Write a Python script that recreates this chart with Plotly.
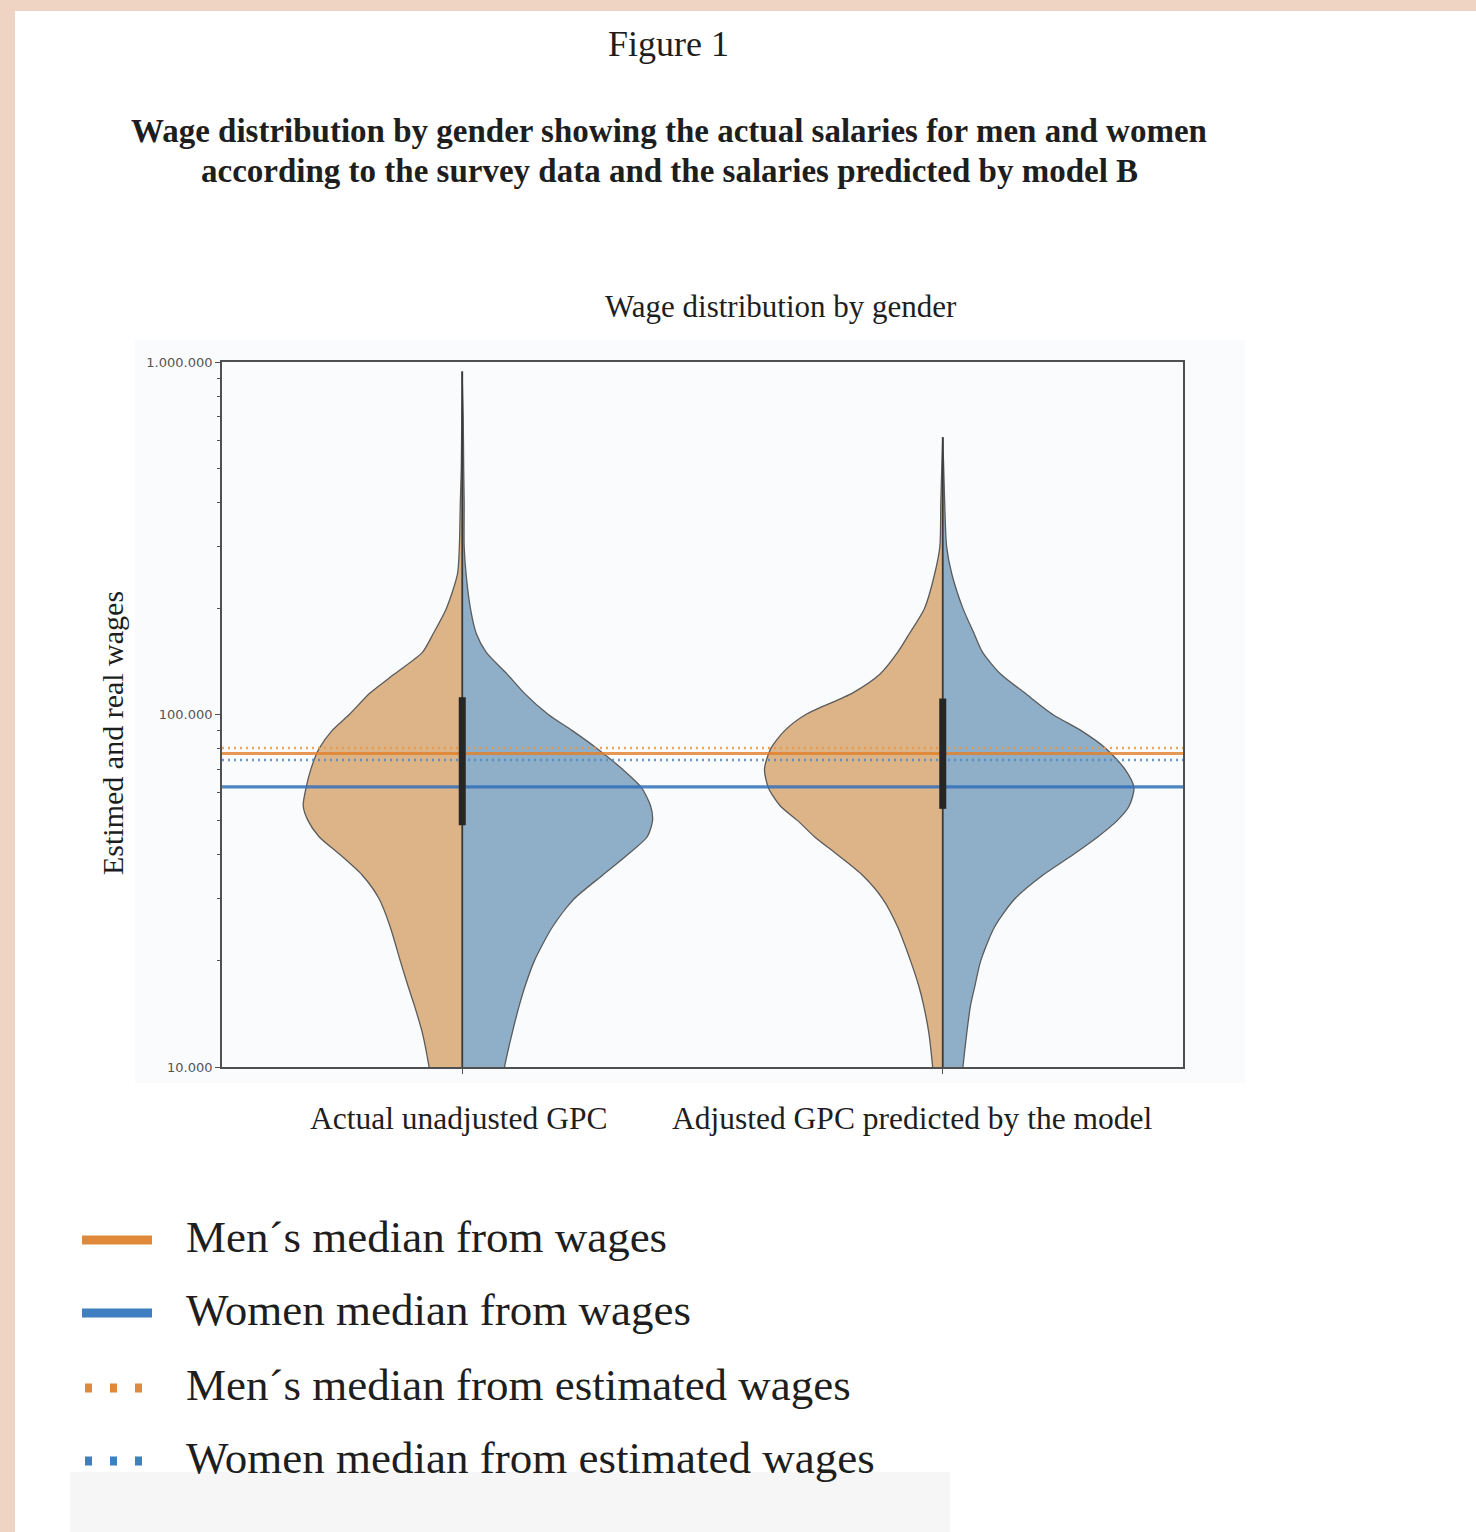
import plotly.graph_objects as go

# ---------------------------------------------------------------- data
CATEGORIES = ["Actual unadjusted GPC", "Adjusted GPC predicted by the model"]
CATEGORY_POS = [0, 1]

# wage levels at which the kernel density outline is sampled
WAGE_LEVELS = [900000, 700000, 500000, 400000, 300000, 250000, 200000, 170000,
               150000, 130000, 115000, 100000, 90000, 80000, 70000, 62000,
               55000, 50000, 45000, 40000, 35000, 30000, 25000, 20000, 17000,
               15000, 12500, 10000, 8000]

# half-widths of each violin side (category units)
ACTUAL_MEN_DENSITY = [0, .001, .002, .004, .006, .010, .033, .060, .083, .142,
                      .192, .235, .271, .298, .315, .325, .331, .321, .298,
                      .254, .208, .173, .150, .129, .113, .100, .083, .069, .058]
ACTUAL_WOMEN_DENSITY = [0, .002, .003, .004, .004, .008, .017, .029, .050, .094,
                        .129, .179, .229, .281, .333, .373, .392, .396, .385,
                        .344, .292, .233, .188, .150, .131, .119, .104, .088, .079]
MODEL_MEN_DENSITY = [0, 0, .002, .004, .006, .017, .038, .069, .094, .131,
                     .188, .285, .329, .358, .371, .363, .338, .302, .267,
                     .219, .167, .125, .094, .067, .050, .040, .029, .021, .015]
MODEL_WOMEN_DENSITY = [0, 0, .002, .004, .008, .019, .042, .065, .083, .121,
                       .171, .229, .288, .340, .379, .398, .388, .363, .323,
                       .271, .208, .150, .108, .079, .067, .058, .050, .042, .035]

# inner box: quartiles and whisker ends per category
BOX_Q1 = [48500, 54000]
BOX_Q3 = [112000, 111000]
WHISKER_HIGH = [940000, 612000]
WHISKER_LOW = [8000, 8000]

# reference medians
MEN_MEDIAN_WAGES = 77500
WOMEN_MEDIAN_WAGES = 62300
MEN_MEDIAN_ESTIMATED = 80300
WOMEN_MEDIAN_ESTIMATED = 74300

Y_TICKS = [10000, 100000, 1000000]
Y_TICK_TEXT = ["10.000", "100.000", "1.000.000"]

LEGEND_LABELS = ["Men\u00b4s median from wages",
                 "Women median from wages",
                 "Men\u00b4s median from estimated wages",
                 "Women median from estimated wages"]

# ---------------------------------------------------------------- style
W, H = 1476, 1532
PL, PR, PT, PB = 222, 1183, 362, 1067          # plot-area box in pixels
SERIF = "Liberation Serif"
ORANGE_FILL = "#DDB487"
BLUE_FILL = "#8FAFC8"
OUTLINE = "#5b5b5b"
ORANGE_LINE = "rgba(228,128,40,0.80)"
BLUE_LINE = "rgba(50,112,185,0.85)"
ORANGE_DOT = "rgba(232,150,70,0.85)"
BLUE_DOT = "rgba(80,135,195,0.85)"


def px(x):
    return (x - PL) / (PR - PL)


def py(y):
    return (PB - y) / (PB - PT)


fig = go.Figure()


def half_violin(pos, density, top, color, side):
    sign = -1 if side == "left" else 1
    xs, ys = [pos], [top]
    for lvl, d in zip(WAGE_LEVELS, density):
        if lvl < top:
            xs.append(pos + sign * d)
            ys.append(lvl)
    xs += [pos]
    ys += [WAGE_LEVELS[-1]]
    fig.add_trace(go.Scatter(x=xs, y=ys, mode="lines", fill="toself",
                             fillcolor=color,
                             line=dict(color=OUTLINE, width=1.3,
                                       shape="spline", smoothing=0.7),
                             hoverinfo="skip", showlegend=False))


men_sets = [ACTUAL_MEN_DENSITY, MODEL_MEN_DENSITY]
women_sets = [ACTUAL_WOMEN_DENSITY, MODEL_WOMEN_DENSITY]
for i, pos in enumerate(CATEGORY_POS):
    half_violin(pos, men_sets[i], WHISKER_HIGH[i], ORANGE_FILL, "left")
    half_violin(pos, women_sets[i], WHISKER_HIGH[i], BLUE_FILL, "right")

# median reference lines across the whole axis
x_span = [-0.5, 1.5]
for val, col, dash, wd in [
        (MEN_MEDIAN_ESTIMATED, ORANGE_DOT, "2px,4px", 2.5),
        (WOMEN_MEDIAN_ESTIMATED, BLUE_DOT, "2px,4px", 2.5),
        (MEN_MEDIAN_WAGES, ORANGE_LINE, "solid", 3.2),
        (WOMEN_MEDIAN_WAGES, BLUE_LINE, "solid", 3.2)]:
    fig.add_trace(go.Scatter(x=x_span, y=[val, val], mode="lines",
                             line=dict(color=col, width=wd, dash=dash),
                             hoverinfo="skip", showlegend=False))

# inner box: whisker and interquartile bar
for i, pos in enumerate(CATEGORY_POS):
    fig.add_trace(go.Scatter(x=[pos, pos], y=[WHISKER_LOW[i], WHISKER_HIGH[i]],
                             mode="lines", line=dict(color="#3a3a3a", width=1.8),
                             hoverinfo="skip", showlegend=False))
    fig.add_trace(go.Scatter(x=[pos, pos], y=[BOX_Q1[i], BOX_Q3[i]],
                             mode="lines", line=dict(color="#262626", width=7),
                             hoverinfo="skip", showlegend=False))

shapes = [
    # white page on the pink frame
    dict(type="rect", xref="paper", yref="paper", layer="below",
         x0=px(15), x1=px(W + 5), y0=py(H + 5), y1=py(11),
         fillcolor="white", line=dict(width=0)),
    # pale canvas of the chart
    dict(type="rect", xref="paper", yref="paper", layer="below",
         x0=px(135), x1=px(1245), y0=py(1083), y1=py(340),
         fillcolor="#F9FBFD", line=dict(width=0)),
    # faint grey strip at the foot of the page
    dict(type="rect", xref="paper", yref="paper", layer="below",
         x0=px(70), x1=px(950), y0=py(H + 5), y1=py(1472),
         fillcolor="#F6F6F6", line=dict(width=0)),
]

annotations = [
    dict(text="Figure 1", x=px(668), y=py(44), font=dict(size=36)),
    dict(text="<b>Wage distribution by gender showing the actual salaries for men and women</b>",
         x=px(669), y=py(131), font=dict(size=33)),
    dict(text="<b>according to the survey data and the salaries predicted by model B</b>",
         x=px(669), y=py(171), font=dict(size=33)),
    dict(text="Wage distribution by gender", x=px(781), y=py(306),
         font=dict(size=31)),
    dict(text="Estimed and real wages", x=px(112), y=py(733), textangle=-90,
         font=dict(size=30)),
    dict(text=CATEGORIES[0], x=px(458), y=py(1118), font=dict(size=31.5)),
    dict(text=CATEGORIES[1], x=px(912), y=py(1118), font=dict(size=31.5)),
]
for a in annotations:
    a.update(xref="paper", yref="paper", showarrow=False,
             xanchor="center", yanchor="middle")
    a["font"].update(family=SERIF, color="#1e1e1e")

# hand-drawn legend
legend_rows = [(1237, "solid"), (1310, "solid"), (1385, "dot"), (1458, "dot")]
legend_cols = ["#E0893A", "#3F7EC0", "#E0893A", "#3F7EC0"]
for (yrow, kind), col, label in zip(legend_rows, legend_cols, LEGEND_LABELS):
    if kind == "solid":
        shapes.append(dict(type="line", xref="paper", yref="paper",
                           x0=px(82), x1=px(152), y0=py(yrow + 3), y1=py(yrow + 3),
                           line=dict(color=col, width=9)))
    else:
        shapes.append(dict(type="line", xref="paper", yref="paper",
                           x0=px(85), x1=px(143), y0=py(yrow + 3), y1=py(yrow + 3),
                           line=dict(color=col, width=9, dash="7px,18px")))
    annotations.append(dict(text=label, xref="paper", yref="paper",
                            x=px(184), y=py(yrow), xanchor="left",
                            yanchor="middle", showarrow=False,
                            font=dict(family=SERIF, size=45, color="#1e1e1e")))

minor_vals = [m * 10 ** e for e in (4, 5) for m in range(2, 10)]

fig.update_layout(
    width=W, height=H,
    margin=dict(l=PL, r=W - PR, t=PT, b=H - PB, pad=0),
    paper_bgcolor="#EFD3C3",
    plot_bgcolor="#F9FBFD",
    showlegend=False,
    shapes=shapes,
    annotations=annotations,
    xaxis=dict(range=[-0.5, 1.5], showgrid=False, zeroline=False,
               showline=True, mirror=True, linecolor="#505050", linewidth=1.8,
               tickvals=CATEGORY_POS, ticks="outside", ticklen=5,
               tickcolor="#505050", showticklabels=False, fixedrange=True),
    yaxis=dict(type="log", range=[4, 6], showgrid=False, zeroline=False,
               showline=True, mirror=True, linecolor="#505050", linewidth=1.8,
               tickvals=Y_TICKS, ticktext=Y_TICK_TEXT, ticks="outside",
               ticklen=5, tickcolor="#505050",
               tickfont=dict(family="DejaVu Sans", size=13, color="#555555"),
               minor=dict(tickvals=minor_vals, ticks="outside", ticklen=3,
                          tickcolor="#505050", showgrid=False),
               fixedrange=True),
)

fig.write_html("out.html")
